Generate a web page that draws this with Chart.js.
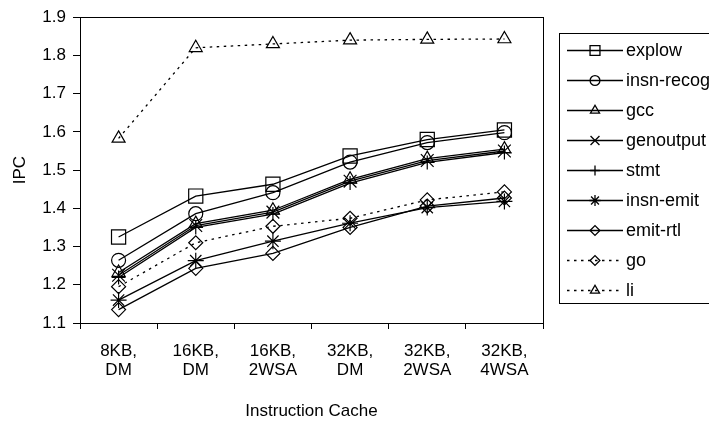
<!DOCTYPE html>
<html>
<head>
<meta charset="utf-8">
<script src="https://cdn.jsdelivr.net/npm/chart.js@4"></script>
<style>
  body { margin: 0; background: #fff; }
  #wrap { width: 709px; height: 423px; }
</style>
</head>
<body>
<div id="wrap"><canvas id="ipcChart" width="709" height="423"></canvas></div>
<script>
var cacheLabels = [['8KB,', 'DM'], ['16KB,', 'DM'], ['16KB,', '2WSA'], ['32KB,', 'DM'], ['32KB,', '2WSA'], ['32KB,', '4WSA']];

var explow    = [1.325, 1.432, 1.463, 1.537, 1.580, 1.605];
var insnRecog = [1.264, 1.386, 1.441, 1.521, 1.572, 1.598];
var gcc       = [1.232, 1.360, 1.395, 1.476, 1.530, 1.555];
var genoutput = [1.225, 1.355, 1.390, 1.471, 1.525, 1.550];
var stmt      = [1.219, 1.350, 1.385, 1.466, 1.520, 1.546];
var insnEmit  = [1.160, 1.263, 1.314, 1.361, 1.402, 1.418];
var emitRtl   = [1.135, 1.243, 1.282, 1.350, 1.406, 1.427];
var go        = [1.195, 1.310, 1.353, 1.374, 1.422, 1.443];
var li        = [1.583, 1.820, 1.830, 1.840, 1.842, 1.843];

var yTicks = [1.1, 1.2, 1.3, 1.4, 1.5, 1.6, 1.7, 1.8, 1.9];

var FONT = 'Liberation Sans, Arial, sans-serif';
var FSIZE = 17;

function series(label, data, style, radius, dotted) {
  return {
    label: label,
    data: data,
    borderColor: '#000',
    backgroundColor: 'rgba(0,0,0,0)',
    borderWidth: 1.3,
    borderDash: dotted ? [2.5, 4.5] : [],
    pointStyle: style,
    pointRadius: radius,
    pointBorderWidth: 1.2,
    pointBorderColor: '#000',
    pointBackgroundColor: 'rgba(0,0,0,0)',
    tension: 0,
    fill: false
  };
}

// plot frame + boxed legend drawn like the original
var frameAndLegend = {
  id: 'frameAndLegend',
  afterDraw: function (chart) {
    var ctx = chart.ctx;
    var a = chart.chartArea;
    ctx.save();
    ctx.strokeStyle = '#000';
    ctx.lineWidth = 1;
    ctx.strokeRect(Math.round(a.left) + 0.5, Math.round(a.top) + 0.5,
      Math.round(a.right - a.left), Math.round(a.bottom - a.top));

    // legend box
    ctx.strokeRect(559.5, 33.5, 160, 270);
    var y0 = 50, step = 30;
    chart.data.datasets.forEach(function (ds, i) {
      var y = Math.round(y0 + i * step) + 0.5;
      ctx.beginPath();
      ctx.setLineDash(ds.borderDash);
      ctx.lineWidth = 1.3;
      ctx.moveTo(567, y);
      ctx.lineTo(623, y);
      ctx.stroke();
      ctx.setLineDash([]);
      ctx.strokeStyle = '#000';
      ctx.fillStyle = 'rgba(0,0,0,0)';
      Chart.helpers.drawPoint(ctx, {
        pointStyle: ds.pointStyle,
        radius: ds.pointRadius * 0.7,
        borderWidth: 1.1,
        rotation: 0
      }, 595, y);
      ctx.fillStyle = '#000';
      ctx.font = '18px ' + FONT;
      ctx.textBaseline = 'middle';
      ctx.textAlign = 'left';
      ctx.fillText(ds.label, 626, y + 1);
    });
    ctx.restore();
  }
};

var ipcChart = new Chart(document.getElementById('ipcChart'), {
  type: 'line',
  data: {
    labels: cacheLabels,
    datasets: [
      series('explow', explow, 'rect', 10),
      series('insn-recog', insnRecog, 'circle', 7),
      series('gcc', gcc, 'triangle', 7.5),
      series('genoutput', genoutput, 'crossRot', 9),
      series('stmt', stmt, 'cross', 7),
      series('insn-emit', insnEmit, 'star', 8),
      series('emit-rtl', emitRtl, 'rectRot', 7),
      series('go', go, 'rectRot', 7, true),
      series('li', li, 'triangle', 7.5, true)
    ]
  },
  options: {
    responsive: false,
    animation: false,
    layout: { padding: { left: 0, right: 166, top: 11, bottom: 0 } },
    plugins: {
      legend: { display: false },
      tooltip: { enabled: false }
    },
    scales: {
      x: {
        offset: true,
        grid: {
          offset: true,
          drawOnChartArea: false,
          drawTicks: true,
          tickLength: 6,
          color: '#000'
        },
        border: { color: '#000', width: 1 },
        ticks: {
          color: '#000',
          font: { family: FONT, size: FSIZE, lineHeight: 1.12 },
          maxRotation: 0,
          autoSkip: false,
          padding: 13
        },
        title: {
          display: true,
          text: 'Instruction Cache',
          color: '#000',
          font: { family: FONT, size: FSIZE },
          padding: { top: 10, bottom: 1 }
        },
        afterFit: function (scale) { scale.height = 100; }
      },
      y: {
        min: 1.1,
        max: 1.9,
        afterBuildTicks: function (scale) {
          scale.ticks = yTicks.map(function (v) { return { value: v }; });
        },
        grid: {
          drawOnChartArea: false,
          drawTicks: true,
          tickLength: 7,
          color: '#000'
        },
        border: { color: '#000', width: 1 },
        ticks: {
          color: '#000',
          font: { family: FONT, size: FSIZE },
          padding: 7,
          callback: function (v) { return Number(v).toFixed(1); }
        },
        title: {
          display: true,
          text: 'IPC',
          color: '#000',
          font: { family: FONT, size: FSIZE },
          padding: { top: 10, bottom: 0 }
        },
        afterFit: function (scale) { scale.width = 80; }
      }
    }
  },
  plugins: [frameAndLegend]
});
</script>
</body>
</html>
